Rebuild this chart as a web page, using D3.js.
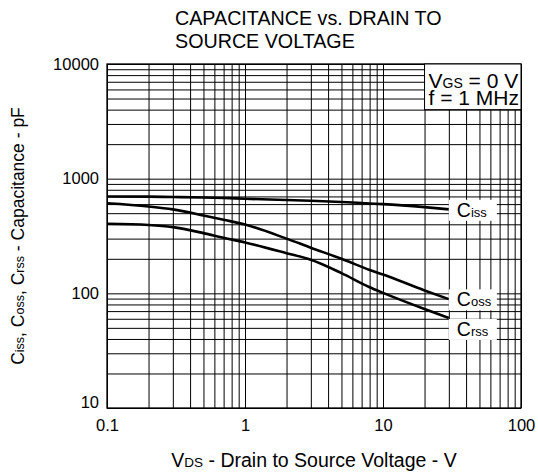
<!DOCTYPE html>
<html>
<head>
<meta charset="utf-8">
<script src="https://cdn.jsdelivr.net/npm/d3@7"></script>
<style>
  body { margin: 0; background: #fff; }
  svg { display: block; font-family: "Liberation Sans", Arial, sans-serif; }
</style>
</head>
<body>
<div id="chart"></div>
<script>
// values (V in volts, C in pF)
const vds = [0.1, 0.2, 0.3, 0.5, 0.7, 1, 2, 3, 5, 8, 10, 20, 30];
const ciss = [700, 697, 692, 685, 678, 668, 652, 642, 626, 608, 600, 565, 540];
const coss = [610, 572, 540, 478, 438, 398, 300, 250, 200, 160, 146, 106, 89];
const crss = [405, 395, 378, 335, 305, 278, 224, 196, 150, 113, 101, 73, 61];
const xTicks = [0.1, 1, 10, 100];
const yTicks = [10, 100, 1000, 10000];

const width = 538, height = 476;
const margin = { top: 64, right: 17, bottom: 68, left: 107 };
const w = width - margin.left - margin.right;
const h = height - margin.top - margin.bottom;

const svg = d3.select('#chart')
  .append('svg')
  .attr('width', width)
  .attr('height', height);

const x = d3.scaleLog().domain([0.1, 100]).range([0, w]);
const y = d3.scaleLog().domain([10, 10000]).range([h, 0]);

const g = svg.append('g')
  .attr('transform', `translate(${margin.left},${margin.top})`);

// grid lines 1..9 in every decade
const xGrid = [];
[0.1, 1, 10].forEach(d => { for (let k = 2; k <= 9; k++) xGrid.push(+(d * k).toFixed(3)); });
const yGrid = [];
[10, 100, 1000].forEach(d => { for (let k = 2; k <= 9; k++) yGrid.push(d * k); });

const gridX = g.append('g')
  .attr('transform', `translate(0,${h})`)
  .call(d3.axisBottom(x).tickValues(xGrid.concat(xTicks)).tickSize(-h).tickFormat(''));
const gridY = g.append('g')
  .call(d3.axisLeft(y).tickValues(yGrid.concat(yTicks)).tickSize(-w).tickFormat(''));
[gridX, gridY].forEach(a => {
  a.select('.domain').remove();
  a.selectAll('line').attr('stroke', '#000').attr('stroke-width', 1);
});

g.append('rect')
  .attr('width', w)
  .attr('height', h)
  .attr('fill', 'none')
  .attr('stroke', '#000')
  .attr('stroke-width', 1.3);

// curves
const line = d3.line()
  .x((d, i) => x(vds[i]))
  .y(d => y(d))
  .curve(d3.curveMonotoneX);

[ciss, coss, crss].forEach(s => {
  g.append('path')
    .attr('d', line(s))
    .attr('fill', 'none')
    .attr('stroke', '#000')
    .attr('stroke-width', 2.6);
});

// curve labels with white boxes
const labels = [
  { sub: 'iss', c: 465 },
  { sub: 'oss', c: 77 },
  { sub: 'rss', c: 42.5 }
];
const lx = x(30);
labels.forEach(l => {
  const by = y(l.c);
  g.append('rect')
    .attr('x', lx)
    .attr('y', by - 17)
    .attr('width', 48)
    .attr('height', 21)
    .attr('fill', '#fff');
  const t = g.append('text')
    .attr('x', lx + 8)
    .attr('y', by)
    .attr('font-size', 19.5);
  t.append('tspan').text('C');
  t.append('tspan').attr('font-size', 13).text(l.sub);
});

// conditions box
const bx = x(20);
g.append('rect')
  .attr('x', bx)
  .attr('y', 0)
  .attr('width', w - bx)
  .attr('height', y(4000))
  .attr('fill', '#fff')
  .attr('stroke', '#000')
  .attr('stroke-width', 1);
const c1 = g.append('text')
  .attr('x', bx + 4)
  .attr('y', 24)
  .attr('font-size', 21);
c1.append('tspan').text('V');
c1.append('tspan').attr('font-size', 14).text('GS');
c1.append('tspan').text(' = 0 V');
g.append('text')
  .attr('x', bx + 4)
  .attr('y', 41)
  .attr('font-size', 21)
  .text('f = 1 MHz');

// tick labels
const xAxis = g.append('g')
  .attr('transform', `translate(0,${h})`)
  .call(d3.axisBottom(x).tickValues(xTicks).tickSize(0).tickPadding(11)
    .tickFormat(d => String(d)));
const yAxis = g.append('g')
  .call(d3.axisLeft(y).tickValues(yTicks).tickSize(0).tickPadding(8)
    .tickFormat(d => String(d)));
[xAxis, yAxis].forEach(a => {
  a.select('.domain').remove();
  a.selectAll('text')
    .attr('font-size', 16.5)
    .attr('font-family', '"Liberation Sans", Arial, sans-serif')
    .attr('fill', '#000');
});
yAxis.selectAll('text').filter(d => d === 10).attr('dy', '-0.05em');

// title
const title = svg.append('text')
  .attr('font-size', 19.7);
title.append('tspan').attr('x', 175).attr('y', 25).text('CAPACITANCE vs. DRAIN TO');
title.append('tspan').attr('x', 175).attr('y', 48).text('SOURCE VOLTAGE');

// x axis title
const xt = svg.append('text')
  .attr('x', 314)
  .attr('y', 467)
  .attr('text-anchor', 'middle')
  .attr('font-size', 19.5);
xt.append('tspan').text('V');
xt.append('tspan').attr('font-size', 13.5).text('DS');
xt.append('tspan').text(' - Drain to Source Voltage - V');

// y axis title
const yt = svg.append('text')
  .attr('transform', `translate(24,236) rotate(-90)`)
  .attr('text-anchor', 'middle')
  .attr('font-size', 17.5);
[['iss', ', '], ['oss', ', '], ['rss', '  -  Capacitance - pF']].forEach(p => {
  yt.append('tspan').text('C');
  yt.append('tspan').attr('font-size', 12.5).text(p[0]);
  yt.append('tspan').text(p[1]);
});
</script>
</body>
</html>
